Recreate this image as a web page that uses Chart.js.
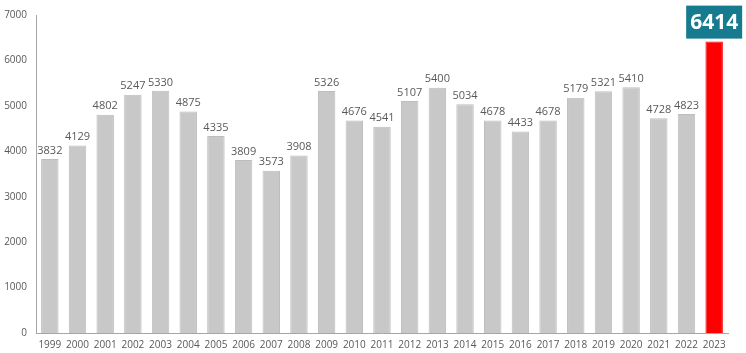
<!DOCTYPE html>
<html>
<head>
<meta charset="utf-8">
<script src="https://cdn.jsdelivr.net/npm/chart.js@4.4.0/dist/chart.umd.min.js"></script>
<style>
  html, body { margin: 0; padding: 0; background: #fff; }
  #wrap { width: 746px; height: 353px; }
</style>
</head>
<body>
<div id="wrap"><canvas id="barChart" width="746" height="353"></canvas></div>
<script>
const years = ['1999', '2000', '2001', '2002', '2003', '2004', '2005', '2006', '2007', '2008', '2009', '2010',
  '2011', '2012', '2013', '2014', '2015', '2016', '2017', '2018', '2019', '2020', '2021', '2022', '2023'];
const counts = [3832, 4129, 4802, 5247, 5330, 4875, 4335, 3809, 3573, 3908, 5326, 4676,
  4541, 5107, 5400, 5034, 4678, 4433, 4678, 5179, 5321, 5410, 4728, 4823, 6414];
const yTicks = [0, 1000, 2000, 3000, 4000, 5000, 6000, 7000];

const lastIdx = counts.length - 1;
const fills = counts.map((v, i) => i === lastIdx ? '#ff0000' : '#c8c8c8');
const edges = counts.map((v, i) => i === lastIdx ? '#ff0000' : '#bdbdbd');

// value labels above the bars, the last one in a highlighted box
const barLabels = {
  id: 'barLabels',
  afterDatasetsDraw(chart) {
    const ctx = chart.ctx;
    const meta = chart.getDatasetMeta(0);
    ctx.save();
    ctx.textAlign = 'center';
    ctx.textBaseline = 'bottom';
    meta.data.forEach((bar, i) => {
      const txt = String(counts[i]);
      if (i === lastIdx) {
        ctx.font = 'bold 21px "Open Sans", sans-serif';
        const w = 56, h = 33;
        const x = bar.x - w / 2, y = bar.y - h - 3;
        ctx.fillStyle = '#177b8f';
        ctx.fillRect(x, y, w, h);
        ctx.fillStyle = '#ffffff';
        ctx.textBaseline = 'middle';
        ctx.fillText(txt, bar.x, y + h / 2 + 1);
        ctx.textBaseline = 'bottom';
      } else {
        ctx.font = '11px "Open Sans", sans-serif';
        ctx.fillStyle = '#595959';
        ctx.fillText(txt, bar.x, bar.y - 3);
      }
    });
    ctx.restore();
  }
};

new Chart(document.getElementById('barChart').getContext('2d'), {
  type: 'bar',
  data: {
    labels: years,
    datasets: [{
      data: counts,
      backgroundColor: fills,
      borderColor: edges,
      borderWidth: 1,
      barPercentage: 0.63,
      categoryPercentage: 1
    }]
  },
  options: {
    responsive: false,
    animation: false,
    layout: { padding: { top: 6, right: 18, left: 0, bottom: 0 } },
    plugins: { legend: { display: false }, tooltip: { enabled: false } },
    scales: {
      x: {
        grid: { display: false, drawTicks: false },
        border: { color: '#a6a6a6', width: 1 },
        ticks: { color: '#595959', font: { family: 'Open Sans', size: 10 }, padding: 6, maxRotation: 0, autoSkip: false },
        afterFit: s => { s.height = 20; }
      },
      y: {
        min: 0,
        max: 7000,
        afterBuildTicks: s => { s.ticks = yTicks.map(v => ({ value: v })); },
        grid: { display: false, drawTicks: false },
        border: { color: '#a6a6a6', width: 1 },
        ticks: { color: '#595959', font: { family: 'Open Sans', size: 10 }, padding: 9, callback: v => String(v) },
        afterFit: s => { s.width = 36; }
      }
    }
  },
  plugins: [barLabels]
});
</script>
</body>
</html>
